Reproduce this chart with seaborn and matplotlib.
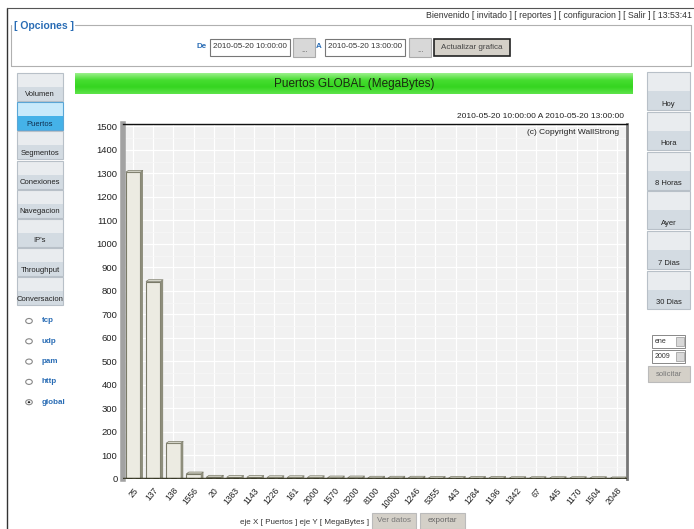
import numpy as np
import pandas as pd
import matplotlib
matplotlib.use('Agg')
import matplotlib.pyplot as plt
from matplotlib.patches import Rectangle, Circle, Polygon
import seaborn as sns

# chart data
ports = ['25', '137', '138', '1556', '20', '1383', '1143', '1226', '161', '2000',
         '1570', '3200', '8100', '10000', '1246', '5355', '443', '1284', '1196',
         '1342', '67', '445', '1170', '1504', '2048']
megabytes = [1305, 840, 152, 22, 8, 7, 7, 6, 6, 6, 5, 5, 4, 4, 4, 3, 3, 3, 3,
             2, 2, 2, 2, 2, 1]
y_ticks = list(range(0, 1600, 100))

# page texts
left_menu = ['Volumen', 'Puertos', 'Segmentos', 'Conexiones', 'Navegacion',
             "IP's", 'Throughput', 'Conversacion']
protocols = ['tcp', 'udp', 'pam', 'http', 'global']
right_menu = ['Hoy', 'Hora', '8 Horas', 'Ayer', '7 Dias', '30 Dias']

sns.set_style('white')
plt.rcParams['font.family'] = ['Liberation Sans', 'DejaVu Sans']

W, H = 694, 529
fig = plt.figure(figsize=(W / 100, H / 100), dpi=100)
fig.patch.set_facecolor('white')


def fx(x):
    return x / W


def fy(y):
    return 1 - y / H


def box(x0, y0, x1, y1, **kw):
    fig.patches.append(Rectangle((fx(x0), fy(y1)), (x1 - x0) / W, (y1 - y0) / H,
                                 transform=fig.transFigure, **kw))


def txt(x, y, s, **kw):
    fig.text(fx(x), fy(y), s, **kw)


def button(x0, y0, x1, y1, label, top='#e9ecef', bottom='#d3dbe2', color='#222',
           size=5.5, edge='#b8c0c8'):
    mid = (y0 + y1) / 2
    box(x0, y0, x1, mid, facecolor=top, edgecolor='none')
    box(x0, mid, x1, y1, facecolor=bottom, edgecolor='none')
    box(x0, y0, x1, y1, facecolor='none', edgecolor=edge, linewidth=0.8)
    txt((x0 + x1) / 2, y1 - 6, label, ha='center', va='center', size=size,
        color=color)


# outer frame
fig.lines.append(plt.Line2D([fx(7), fx(7)], [fy(8), fy(529)], transform=fig.transFigure,
                            color='#333', linewidth=1))
fig.lines.append(plt.Line2D([fx(7), fx(694)], [fy(8), fy(8)], transform=fig.transFigure,
                            color='#555', linewidth=0.8))

# header
txt(692, 15, 'Bienvenido [ invitado ] [ reportes ] [ configuracion ] [ Salir ] [ 13:53:41',
    ha='right', va='center', size=6.3, color='#333')

# options fieldset
for xs, ys in [([11, 11], [25, 66]), ([11, 691], [66, 66]), ([691, 691], [25, 66]),
               ([75, 691], [25, 25])]:
    fig.lines.append(plt.Line2D([fx(v) for v in xs], [fy(v) for v in ys],
                                transform=fig.transFigure, color='#b0b0b0', linewidth=0.8))
txt(14, 26, '[ Opciones ]', ha='left', va='center', size=7.5, color='#2a6db5',
    weight='bold')
txt(207, 47, 'De', ha='right', va='center', size=5.8, color='#2a6db5', weight='bold')
box(210, 39, 290, 56, facecolor='white', edgecolor='#777', linewidth=0.8)
txt(213, 47, '2010-05-20 10:00:00', ha='left', va='center', size=5.8, color='#333')
box(293, 38, 315, 57, facecolor='#d8d8d8', edgecolor='#aaa', linewidth=0.8)
txt(304, 50, '...', ha='center', va='center', size=5.5, color='#555')
txt(322, 47, 'A', ha='right', va='center', size=5.8, color='#2a6db5', weight='bold')
box(325, 39, 405, 56, facecolor='white', edgecolor='#777', linewidth=0.8)
txt(328, 47, '2010-05-20 13:00:00', ha='left', va='center', size=5.8, color='#333')
box(409, 38, 431, 57, facecolor='#d8d8d8', edgecolor='#aaa', linewidth=0.8)
txt(420, 50, '...', ha='center', va='center', size=5.5, color='#555')
box(434, 39, 510, 56, facecolor='#d4d0c8', edgecolor='#222', linewidth=1.2)
txt(472, 47.5, 'Actualizar grafica', ha='center', va='center', size=5.8, color='#444')

# left menu
for i, name in enumerate(left_menu):
    y0 = 73 + i * 29.2
    if name == 'Puertos':
        button(17, y0, 63, y0 + 28, name, top='#c8eafb', bottom='#45b2e8',
               color='#103050', edge='#5aa6d6')
    else:
        button(17, y0, 63, y0 + 28, name)

for i, name in enumerate(protocols):
    y = 321 + i * 20.3
    fig.patches.append(Circle((fx(29), fy(y)), 3.3 / W, transform=fig.transFigure,
                              facecolor='white', edgecolor='#888', linewidth=0.8))
    if name == 'global':
        fig.patches.append(Circle((fx(29), fy(y)), 1.3 / W, transform=fig.transFigure,
                                  facecolor='#222', edgecolor='none'))
    txt(42, y, name, ha='left', va='center', size=5.8, color='#2a6db5', weight='bold')

# right menu
for i, name in enumerate(right_menu):
    y0 = 72 + i * 39.8
    button(647, y0, 690, y0 + 38, name)

box(652, 335, 685, 348, facecolor='white', edgecolor='#888', linewidth=0.7)
txt(655, 341.5, 'ene', ha='left', va='center', size=5, color='#333')
box(676, 337, 684, 346, facecolor='#d8d8d8', edgecolor='#999', linewidth=0.5)
box(652, 350, 685, 363, facecolor='white', edgecolor='#888', linewidth=0.7)
txt(655, 356.5, '2009', ha='left', va='center', size=5, color='#333')
box(676, 352, 684, 361, facecolor='#d8d8d8', edgecolor='#999', linewidth=0.5)
box(648, 366, 690, 382, facecolor='#d4d0c8', edgecolor='#bbb', linewidth=0.8)
txt(669, 374, 'solicitar', ha='center', va='center', size=5.5, color='#777')

# green title bar
tax = fig.add_axes([fx(75), fy(94), (633 - 75) / W, 21 / H])
grad = np.linspace(0, 1, 50).reshape(-1, 1)
cmap = matplotlib.colors.LinearSegmentedColormap.from_list(
    'g', ['#9af08a', '#46dd30', '#35d520', '#5ee34a'])
tax.imshow(grad, aspect='auto', cmap=cmap, extent=[0, 1, 0, 1])
tax.set_axis_off()
tax.text(0.5, 0.5, 'Puertos GLOBAL (MegaBytes)', ha='center', va='center',
         size=8.5, color='#1a2a10', transform=tax.transAxes)

txt(624, 117, '2010-05-20 10:00:00 A 2010-05-20 13:00:00', ha='right', va='center',
    size=6, color='#222')

# main chart
ax = fig.add_axes([fx(123), fy(479), 504 / W, 355 / H])
df = pd.DataFrame({'puerto': ports, 'mb': megabytes})
sns.barplot(data=df, x='puerto', y='mb', order=ports, color='#ecebe2',
            edgecolor='#7a7a68', linewidth=0.8, width=0.72, saturation=1, ax=ax)
ax.set_facecolor('#f1f1f1')
ax.set_xlim(-0.5, len(ports) - 0.5)
ax.set_ylim(0, 1510)
ax.set_yticks(y_ticks)
ax.set_yticks(range(50, 1500, 100), minor=True)
ax.grid(True, which='major', color='white', linewidth=0.9)
ax.grid(True, which='minor', axis='y', color='#f7f7f7', linewidth=0.5)
ax.tick_params(axis='y', which='minor', length=0)
ax.set_axisbelow(True)

# 3d side of bars
dy = 1510 / 355 * 3
for p in ax.patches:
    x0, w, h = p.get_x(), p.get_width(), p.get_height()
    side = Polygon([(x0 + w, 0), (x0 + w, h), (x0 + w + 0.13, h + dy * 0.6),
                    (x0 + w + 0.13, 0)], facecolor='#8e8e7c', edgecolor='none', zorder=3)
    ax.add_patch(side)
    cap = Polygon([(x0, h), (x0 + w, h), (x0 + w + 0.13, h + dy * 0.6), (x0 + 0.13, h + dy * 0.6)],
                  facecolor='#dcdcd0', edgecolor='#7a7a68', linewidth=0.5, zorder=3)
    ax.add_patch(cap)

ax.axhline(0, color='#3a3a28', linewidth=2.5, zorder=4)
ax.axhline(0, color='white', linewidth=0.8, linestyle=(0, (3, 5)), zorder=5)

ax.set_xlabel('')
ax.set_ylabel('')
ax.spines['left'].set_color('#a2a2a2')
ax.spines['left'].set_linewidth(4)
ax.spines['top'].set_color('#111')
ax.spines['top'].set_linewidth(1)
ax.spines['right'].set_color('#777')
ax.spines['right'].set_linewidth(2)
ax.spines['bottom'].set_visible(False)

ax.tick_params(axis='y', direction='out', length=3, width=0.8, color='#333',
               labelsize=6.8, labelcolor='#222', pad=1)
ax.tick_params(axis='x', direction='out', length=3, width=0.8, color='#333',
               labelsize=6.2, labelcolor='#222', pad=2)
plt.setp(ax.get_xticklabels(), rotation=50, ha='right', rotation_mode='anchor')

ax.text(0.985, 0.985, '(c) Copyright WallStrong', ha='right', va='top', size=6,
        color='#222', transform=ax.transAxes)

# bottom controls
txt(305, 522, 'eje X [ Puertos ] eje Y [ MegaBytes ]', ha='center', va='center',
    size=5.8, color='#333')
box(372, 513, 416, 529, facecolor='#d4d0c8', edgecolor='#bbb', linewidth=0.8)
txt(394, 521, 'Ver datos', ha='center', va='center', size=5.8, color='#777')
box(420, 513, 465, 529, facecolor='#d4d0c8', edgecolor='#bbb', linewidth=0.8)
txt(442, 521, 'exportar', ha='center', va='center', size=5.8, color='#666')

fig.savefig('out.png', dpi=100)
